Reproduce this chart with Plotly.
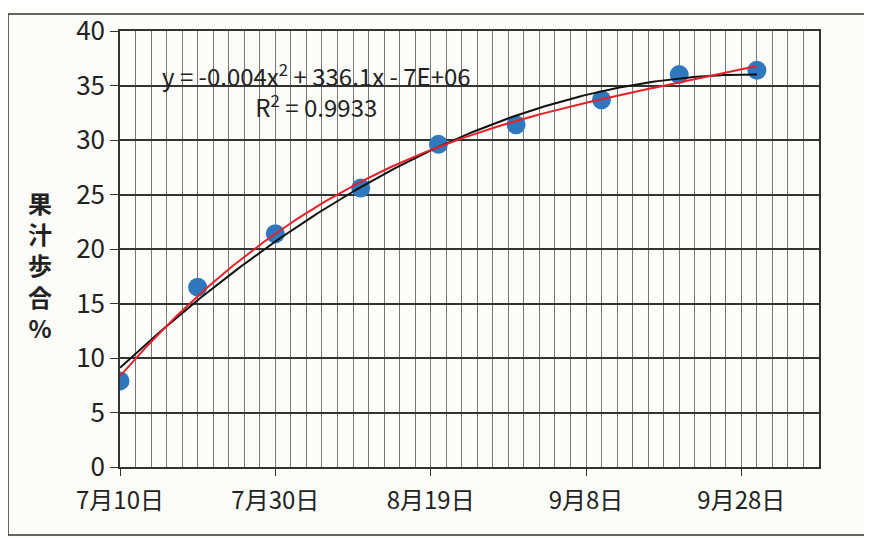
import numpy as np
import pandas as pd
import plotly.graph_objects as go

# ---- data ----
dates = ["2014-07-10", "2014-07-20", "2014-07-30", "2014-08-10", "2014-08-20",
         "2014-08-30", "2014-09-10", "2014-09-20", "2014-09-30"]
juice_pct = [7.9, 16.5, 21.4, 25.6, 29.6, 31.4, 33.7, 36.0, 36.4]
tick_dates = ["2014-07-10", "2014-07-30", "2014-08-19", "2014-09-08", "2014-09-28"]
tick_labels = ["7月10日", "7月30日", "8月19日", "9月8日", "9月28日"]
y_ticks = [0, 5, 10, 15, 20, 25, 30, 35, 40]
eq_text = "y = -0.004x<sup>2</sup> + 336.1x - 7E+06"
r2_text = "R<sup>2</sup> = 0.9933"
y_title = "<b>果<br>汁<br>歩<br>合<br>%</b>"

# ---- trendlines computed from the data ----
d = pd.to_datetime(dates)
t = np.array([(x - d[0]).days for x in d], dtype=float)
tt = np.linspace(t.min(), t.max(), 200)
tt_dates = d[0] + pd.to_timedelta(tt, unit="D")
quad = np.polyval(np.polyfit(t, juice_pct, 2), tt)
cubic = np.polyval(np.polyfit(t, juice_pct, 3), tt)

FONT = "Noto Sans CJK JP"
OFF = 8  # page body margin
W, H = 872 - OFF, 538 - OFF
L, R, T, B = 120 - OFF, 872 - 819, 31 - OFF, 538 - 467
pw, ph = W - L - R, H - T - B


def px(xp):
    return (xp - OFF - L) / pw


def py(yp):
    return (T + ph - (yp - OFF)) / ph


fig = go.Figure()
fig.add_trace(go.Scatter(x=d, y=juice_pct, mode="markers",
                         marker=dict(size=19, color="#2f78be"), showlegend=False))
fig.add_trace(go.Scatter(x=tt_dates, y=quad, mode="lines",
                         line=dict(color="#111111", width=2), showlegend=False))
fig.add_trace(go.Scatter(x=tt_dates, y=cubic, mode="lines",
                         line=dict(color="#e8202a", width=2), showlegend=False))

fig.update_layout(
    width=W, height=H,
    margin=dict(l=L, r=R, t=T, b=B, autoexpand=False),
    paper_bgcolor="#fcfcf8", plot_bgcolor="#fcfcf8",
    font=dict(family=FONT, color="#222222"),
    xaxis=dict(
        type="date", range=["2014-07-10", "2014-10-08"], automargin=False,
        tickmode="array", tickvals=tick_dates, ticktext=tick_labels,
        tickfont=dict(size=24, family=FONT, color="#222"), ticks="outside", ticklen=7,
        ticklabelstandoff=4,
        tickcolor="#333", showgrid=True, gridcolor="#777777", gridwidth=1,
        minor=dict(dtick=2 * 86400000, tick0="2014-07-10", showgrid=True,
                   gridcolor="#777777", gridwidth=1),
        showline=True, linecolor="#333333", linewidth=1.5, mirror=True,
        zeroline=False, fixedrange=True,
    ),
    yaxis=dict(
        range=[0, 40], tickvals=y_ticks, automargin=False,
        tickfont=dict(size=26, family=FONT, color="#222"),
        ticks="outside", ticklen=8, tickcolor="#333",
        showgrid=True, gridcolor="#333333", gridwidth=1.5,
        showline=True, linecolor="#333333", linewidth=1.5, mirror=True,
        zeroline=False, fixedrange=True,
    ),
    annotations=[
        dict(text=eq_text + "<br>" + r2_text, x=px(316), y=py(91), xref="paper",
             yref="paper", showarrow=False, align="center",
             font=dict(size=24, family=FONT, color="#222"),
             xanchor="center", yanchor="middle"),
        dict(text=y_title, x=px(40), y=py(265), xref="paper",
             yref="paper", showarrow=False, align="center",
             font=dict(size=24, family=FONT, color="#222"),
             xanchor="center", yanchor="middle"),
    ],
    shapes=[dict(type="rect", xref="paper", yref="paper",
                 x0=px(8), x1=px(870), y0=py(535), y1=py(14),
                 line=dict(color="#333333", width=1.5), layer="below")],
)

fig.write_html("out.html")
